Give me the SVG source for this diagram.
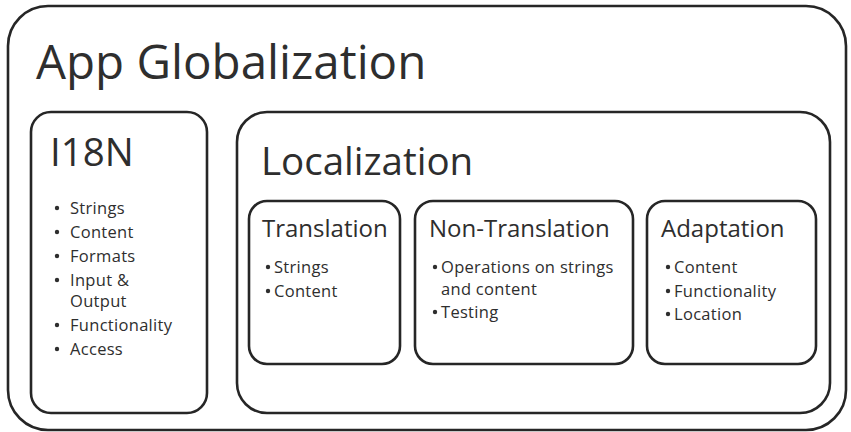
<svg xmlns="http://www.w3.org/2000/svg" width="851" height="432" viewBox="0 0 851 432">
  <style>
    .box { fill: #ffffff; stroke: #262626; stroke-width: 2.6; }
    .t { font-family: "Open Sans", "Noto Sans", "DejaVu Sans", sans-serif; fill: #2e2e2e; }
    .h1 { font-size: 47.5px; }
    .h2 { font-size: 38.5px; }
    .h3 { font-size: 24px; }
    .li { font-size: 16.5px; letter-spacing: 0.3px; }
    .dot { fill: #2e2e2e; }
  </style>
  <rect width="851" height="432" fill="#ffffff"/>

  <g id="app-globalization">
    <rect class="box" x="8" y="6" width="838" height="424" rx="40" ry="40"/>
    <text class="t h1" x="36" y="79">App Globalization</text>
  </g>

  <g id="i18n">
    <rect class="box" x="31" y="112" width="176" height="301" rx="20" ry="20"/>
    <text class="t h2" x="50" y="166">I18N</text>
    <g class="dot">
      <circle cx="57" cy="208" r="2.2"/>
      <circle cx="57" cy="232" r="2.2"/>
      <circle cx="57" cy="256" r="2.2"/>
      <circle cx="57" cy="280" r="2.2"/>
      <circle cx="57" cy="325" r="2.2"/>
      <circle cx="57" cy="349" r="2.2"/>
    </g>
    <text class="t li">
      <tspan x="70" y="214">Strings</tspan>
      <tspan x="70" y="238">Content</tspan>
      <tspan x="70" y="262">Formats</tspan>
      <tspan x="70" y="286">Input &amp;</tspan>
      <tspan x="70" y="307">Output</tspan>
      <tspan x="70" y="331">Functionality</tspan>
      <tspan x="70" y="355">Access</tspan>
    </text>
  </g>

  <g id="localization">
    <rect class="box" x="237" y="112" width="593" height="301" rx="30" ry="30"/>
    <text class="t h2" x="261" y="175">Localization</text>
  </g>

  <g id="translation">
    <rect class="box" x="249" y="201" width="151" height="163" rx="18" ry="18"/>
    <text class="t h3" x="262" y="237">Translation</text>
    <g class="dot">
      <circle cx="268" cy="267" r="2.2"/>
      <circle cx="268" cy="291" r="2.2"/>
    </g>
    <text class="t li">
      <tspan x="274" y="273">Strings</tspan>
      <tspan x="274" y="297">Content</tspan>
    </text>
  </g>

  <g id="non-translation">
    <rect class="box" x="415" y="201" width="218" height="163" rx="18" ry="18"/>
    <text class="t h3" x="429" y="237">Non-Translation</text>
    <g class="dot">
      <circle cx="435" cy="267" r="2.2"/>
      <circle cx="435" cy="312" r="2.2"/>
    </g>
    <text class="t li">
      <tspan x="441" y="273">Operations on strings</tspan>
      <tspan x="441" y="295">and content</tspan>
      <tspan x="441" y="318">Testing</tspan>
    </text>
  </g>

  <g id="adaptation">
    <rect class="box" x="647" y="201" width="169" height="163" rx="18" ry="18"/>
    <text class="t h3" x="661" y="237">Adaptation</text>
    <g class="dot">
      <circle cx="668" cy="267" r="2.2"/>
      <circle cx="668" cy="291" r="2.2"/>
      <circle cx="668" cy="314" r="2.2"/>
    </g>
    <text class="t li">
      <tspan x="674" y="273">Content</tspan>
      <tspan x="674" y="297">Functionality</tspan>
      <tspan x="674" y="320">Location</tspan>
    </text>
  </g>

  <g id="connectors"></g>
</svg>
